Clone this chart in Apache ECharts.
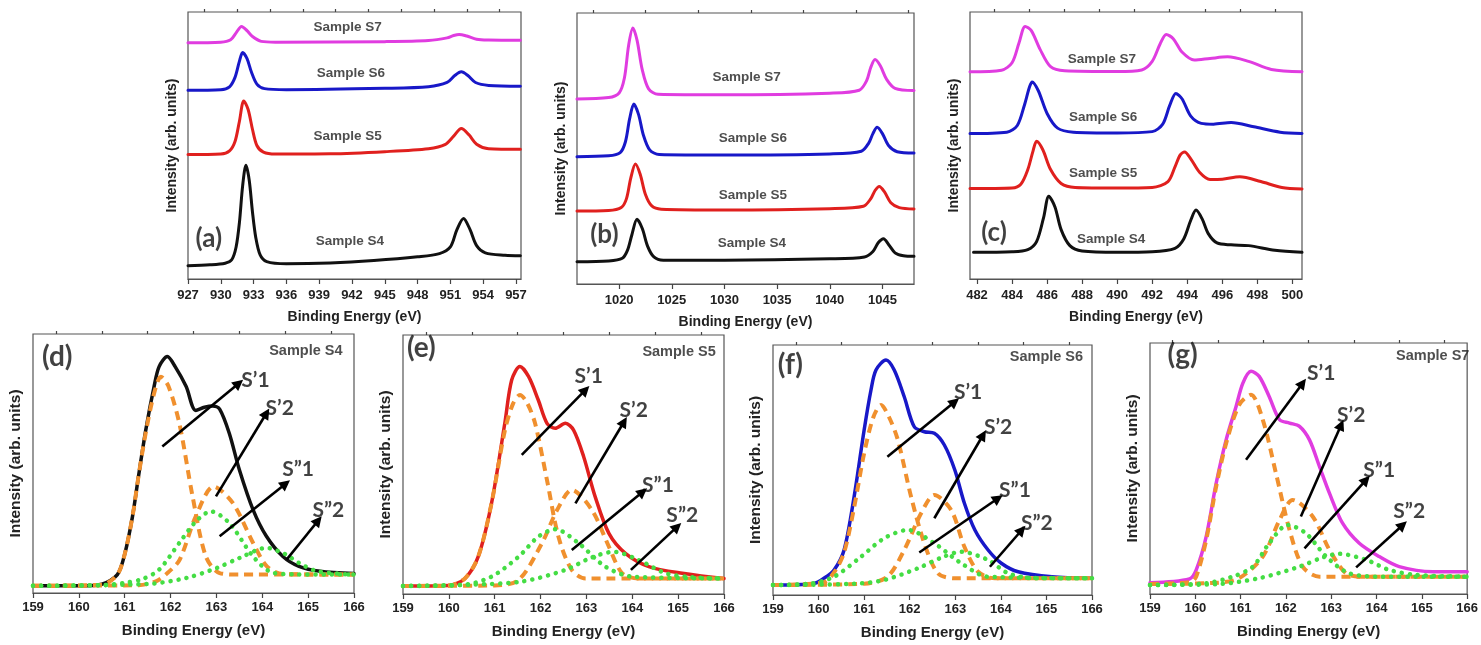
<!DOCTYPE html>
<html>
<head>
<meta charset="utf-8">
<script src="https://cdn.jsdelivr.net/npm/echarts@6/dist/echarts.min.js"></script>
<style>html,body{margin:0;background:#fff}#main{width:1481px;height:645px}</style>
</head>
<body>
<div id="main"></div>
<script>
// ---- tick labels ----
var cuTicks = [927, 930, 933, 936, 939, 942, 945, 948, 951, 954, 957];
var cuMinor = [928.5, 931.5, 934.5, 937.5, 940.5, 943.5, 946.5, 949.5, 952.5, 955.5];
var znTicks = [1020, 1025, 1030, 1035, 1040, 1045];
var znMinor = [1017.5, 1022.5, 1027.5, 1032.5, 1037.5, 1042.5, 1047.5];
var snTicks = [482, 484, 486, 488, 490, 492, 494, 496, 498, 500];
var snMinor = [483, 485, 487, 489, 491, 493, 495, 497, 499];
var sTicks = [159, 160, 161, 162, 163, 164, 165, 166];
var sMinor = [159.5, 160.5, 161.5, 162.5, 163.5, 164.5, 165.5];

// ---- (a) Cu 2p ----
var cuS4 = [[927,5.0],[929,5.3],[930.4,5.9],[931.0,7.2],[931.4,12],[931.7,21],[932.0,35],[932.3,42.6],[932.6,37],[932.9,25],[933.2,15.5],[933.6,9],[934.2,6.5],[936,5.7],[940,6.0],[944,6.9],[948,8.3],[950,9.5],[951,12],[951.6,18.5],[952.2,22.7],[952.8,18.5],[953.4,12.5],[954.2,9.8],[956,8.9],[957.4,8.7]];
var cuS5 = [[927,46.6],[930,46.8],[930.8,48.0],[931.3,51.5],[931.7,59],[932.1,66.7],[932.5,63.5],[932.9,56],[933.3,50],[933.9,47.5],[935,46.8],[940,46.9],[945,47.7],[949,48.8],[950.5,50.3],[951.3,53.5],[952.0,56.4],[952.7,54],[953.4,50.5],[954.5,48.8],[957.4,48.6]];
var cuS6 = [[927,70.7],[930,70.9],[930.8,72.0],[931.3,75.5],[931.7,81.5],[932.0,84.8],[932.4,82.5],[932.8,77.5],[933.3,73],[934,71.3],[936,70.9],[945,71.4],[949,72.0],[950.7,73.6],[951.4,76.2],[952.0,77.6],[952.6,76.2],[953.3,73.6],[954.5,72.5],[957.4,72.2]];
var cuS7 = [[927,88.5],[930,88.7],[930.9,89.6],[931.4,92.2],[931.9,94.6],[932.4,93.0],[932.9,90.8],[933.7,89.0],[935,88.7],[945,88.9],[949,89.3],[950.7,90.3],[951.3,91.2],[951.8,91.6],[952.5,91.0],[953.4,89.8],[954.5,89.5],[957.4,89.4]];

// ---- (b) Zn 2p ----
var znS4 = [[1016,8.2],[1019,8.5],[1020.3,9.5],[1020.8,12.5],[1021.2,18],[1021.7,23.9],[1022.2,20.5],[1022.7,14],[1023.3,10],[1024.2,8.8],[1030,8.8],[1040,9.3],[1043.3,10],[1044.1,12],[1044.6,15.2],[1045.1,16.7],[1045.6,14.5],[1046.2,11.5],[1047,10.4],[1048,10.2]];
var znS5 = [[1016,26.9],[1019,27.1],[1020.2,28.2],[1020.7,31.5],[1021.1,39],[1021.55,44.3],[1022.0,40.5],[1022.5,33],[1023.1,28.8],[1024,27.6],[1030,27.3],[1040,27.8],[1043.2,28.7],[1043.9,31.5],[1044.3,34.5],[1044.7,36.0],[1045.2,34],[1045.8,30],[1046.6,28.2],[1048,27.7]];
var znS6 = [[1016,47.0],[1019,47.3],[1020.1,48.5],[1020.6,52.5],[1021.0,61],[1021.4,66.4],[1021.85,62.5],[1022.3,55],[1022.9,49.5],[1023.8,47.8],[1030,47.6],[1040,48.0],[1043.0,49],[1043.7,52],[1044.1,55.5],[1044.5,57.8],[1045.0,55.5],[1045.6,51],[1046.4,48.8],[1048,48.3]];
var znS7 = [[1016,68.3],[1019,68.8],[1020.0,70.5],[1020.5,76],[1020.9,88],[1021.3,94.5],[1021.7,90],[1022.2,79],[1022.8,72],[1023.7,70],[1030,69.8],[1040,70.4],[1042.8,71.5],[1043.5,75],[1043.9,80],[1044.3,82.8],[1044.8,80.5],[1045.4,75.5],[1046.2,72.2],[1048,71.4]];

// ---- (c) Sn 3d ----
var snS4 = [[481.8,10.0],[484,10.2],[484.9,11],[485.4,14],[485.8,23],[486.1,31.0],[486.45,27],[486.8,18.5],[487.3,12.5],[488,10.5],[490,10.0],[492,10.2],[493.3,11.5],[493.8,15],[494.2,22],[494.5,25.8],[494.85,22.5],[495.2,17],[495.7,13.5],[496.5,12.8],[497.5,12.5],[499,10.8],[500.55,10.0]];
var snS5 = [[481.6,33.9],[484,34.1],[484.5,35.5],[484.9,41],[485.2,48],[485.4,51.6],[485.75,48.5],[486.2,41],[486.8,35.8],[487.6,34.3],[490,34.1],[492,34.3],[492.9,36.5],[493.3,42],[493.6,46.5],[493.85,47.6],[494.2,45],[494.7,40],[495.3,37.3],[496.0,37.4],[497.0,38.3],[498.2,36.5],[499.4,34.3],[500.55,33.7]];
var snS6 = [[481.6,54.5],[483.7,55],[484.3,57.5],[484.7,65],[485.0,72],[485.15,73.8],[485.5,70.5],[486.0,62],[486.6,56.5],[487.5,55],[490,54.7],[492,55.2],[492.6,58],[493.0,65],[493.35,69.5],[493.7,67.5],[494.2,61],[494.8,58.3],[495.5,58],[496.5,58.6],[497.8,57],[499.3,55],[500.55,54.5]];
var snS7 = [[481.6,77.6],[483.4,78.2],[484.0,81],[484.4,88.5],[484.75,94.6],[485.1,93],[485.6,86],[486.2,79.5],[487,78],[490,77.7],[491.4,78.3],[492.0,81.5],[492.45,88],[492.8,91.6],[493.2,90],[493.7,85],[494.4,82],[495.3,82.6],[496.3,83.2],[497.5,81.5],[498.8,78.5],[500.55,77.6]];

// ---- (d)-(g) S 2p fits: total, S'1, S'2, S"1, S"2 ----
var dTotal = [[159,2.8],[160,2.8],[160.5,3.4],[160.84,7.1],[161.0,15],[161.17,29.6],[161.3,45],[161.46,63.0],[161.64,79.7],[161.75,87.4],[161.93,91.3],[162.1,87.4],[162.34,79.7],[162.55,70.5],[162.74,71.7],[162.92,72.2],[163.07,71.0],[163.28,61.7],[163.5,47.6],[163.8,32.1],[164.09,21.9],[164.45,14.1],[164.8,10.3],[165.26,8.4],[166,7.5]];
var dS1 = [[159,2.8],[160.5,3.2],[160.84,7.1],[161.0,15],[161.17,29.6],[161.3,45],[161.46,62],[161.64,77],[161.79,83.5],[161.95,80],[162.19,65.6],[162.48,37.3],[162.77,14.1],[163.07,7.7],[163.5,7.1],[166,7.1]];
var dS2 = [[159,2.8],[161.3,3.0],[161.68,4.5],[161.95,8],[162.2,12.9],[162.55,29.6],[162.94,41.1],[163.36,34.7],[163.8,19.3],[164.1,10.3],[164.45,7.3],[166,7.1]];
var dS3 = [[159,2.8],[160.5,3.0],[161.0,3.9],[161.4,5.5],[161.75,9.0],[162.19,19.3],[162.55,27.6],[162.88,31.5],[163.28,27],[163.8,14.1],[164.2,8.0],[164.7,7.2],[166,7.1]];
var dS4 = [[159,2.8],[161.5,3.5],[162.34,5.8],[163.0,9.6],[163.5,13.5],[164.09,17.4],[164.5,15],[164.8,11.6],[165.2,8.4],[166,7.1]];

var eTotal = [[159,3.1],[160,3.3],[160.35,6.0],[160.64,14.4],[160.93,35],[161.22,65.9],[161.37,82.6],[161.55,87.8],[161.74,83.9],[161.95,74.9],[162.14,65.9],[162.32,64.0],[162.54,65.9],[162.72,63.3],[162.94,53],[163.19,37.6],[163.49,23.4],[163.85,15.7],[164.36,10.6],[165.09,8.0],[166,6.0]];
var eS1 = [[159,3.1],[160,3.3],[160.35,6.0],[160.64,14.4],[160.93,35],[161.22,63],[161.4,73.5],[161.55,76.8],[161.7,74],[161.88,65.9],[162.14,44],[162.39,22.1],[162.68,9.3],[162.98,6.0],[166,6.0]];
var eS2 = [[159,3.1],[161,3.3],[161.52,5.4],[162.03,19.6],[162.36,32.4],[162.68,40.2],[163.12,32.4],[163.49,18.3],[163.78,8.0],[164.14,6.0],[166,6.0]];
var eS3 = [[159,3.1],[160.3,3.5],[160.93,6.7],[161.52,14.4],[161.95,22.1],[162.32,25],[162.83,19.6],[163.41,10.6],[164.0,6.7],[166,6.0]];
var eS4 = [[159,3.1],[160.5,3.6],[161.59,4.8],[162.54,9.3],[163.1,14],[163.6,16.3],[164.14,13.1],[164.73,8.0],[165.3,6.5],[166,6.0]];

var fTotal = [[159,4.0],[159.9,4.6],[160.12,6.7],[160.34,10],[160.56,18],[160.78,39.3],[161.0,66],[161.15,82],[161.26,90],[161.48,94],[161.66,90],[161.88,79.3],[162.1,67.3],[162.32,65.3],[162.54,64.7],[162.76,60],[162.99,50],[163.2,36.7],[163.43,26],[163.72,18],[164.01,12.7],[164.38,9.3],[165.12,7.3],[166,6.7]];
var fS1 = [[159,4.0],[160.1,5],[160.34,9],[160.56,17],[160.78,35],[161.0,56.7],[161.2,71],[161.37,76],[161.55,71],[161.74,62],[162.03,39.3],[162.32,20.7],[162.62,8.7],[162.99,6.7],[166,6.7]];
var fS2 = [[159,4.0],[161.0,4.5],[161.51,7.3],[161.88,18],[162.25,32.7],[162.54,40],[162.91,34],[163.2,19.3],[163.5,9.3],[163.87,6.7],[166,6.7]];
var fS3 = [[159,4.0],[159.8,4.5],[160.34,7.3],[160.93,15.3],[161.44,22.7],[161.96,26],[162.54,20.7],[163.13,12.7],[163.72,7.3],[166,6.7]];
var fS4 = [[159,4.0],[160.78,4.5],[161.44,6],[162.18,10.7],[162.7,15],[163.13,17.3],[163.72,14],[164.16,8.7],[164.75,6.7],[166,6.7]];

var gTotal = [[159,4.5],[159.87,6.0],[160.02,9.6],[160.24,22.9],[160.46,44.1],[160.68,61.4],[160.9,74.7],[161.05,84],[161.23,88.7],[161.41,86.7],[161.63,78.7],[161.86,69.4],[162.08,68.1],[162.3,66.8],[162.52,61.4],[162.74,50.8],[162.96,40.2],[163.25,28.2],[163.62,20.2],[164.06,14.9],[164.5,10.9],[165.24,8.9],[166,8.9]];
var gS1 = [[159,4.0],[159.9,4.8],[160.02,6.9],[160.24,21.5],[160.46,42.8],[160.68,60],[160.97,75.4],[161.23,79.4],[161.49,69.4],[161.78,48.1],[162.08,25.5],[162.37,10.9],[162.74,6.9],[166,6.9]];
var gS2 = [[159,4.0],[160.5,4.5],[160.97,6.3],[161.49,14.9],[161.86,29.5],[162.15,37.5],[162.59,30.9],[162.96,17.6],[163.33,8.2],[163.7,6.9],[166,6.9]];
var gS3 = [[159,3.6],[160.2,4.2],[160.82,6.9],[161.27,10.9],[161.63,20.2],[162.04,27.5],[162.44,24.2],[162.89,14.9],[163.4,8.2],[164.13,6.9],[166,6.9]];
var gS4 = [[159,3.6],[160.46,3.9],[161.41,6.3],[162.3,10.9],[162.8,14.5],[163.18,16],[163.77,13.6],[164.28,9.6],[164.87,7.6],[166,6.9]];

// ---- text notes [x, y, text] and arrows [[x1,y1],[x2,y2]] ----
var aNotes = [[941.6,94.4,'Sample S7'],[941.9,77.2,'Sample S6'],[941.6,53.6,'Sample S5'],[941.8,14.2,'Sample S4'],[928.9,15.0,'(a)']];
var bNotes = [[1032.1,76.1,'Sample S7'],[1032.7,53.9,'Sample S6'],[1032.7,32.8,'Sample S5'],[1032.6,15.1,'Sample S4'],[1018.6,18.1,'(b)']];
var cNotes = [[489.13,82.4,'Sample S7'],[489.2,60.7,'Sample S6'],[489.2,39.7,'Sample S5'],[489.65,15.0,'Sample S4'],[482.97,17.2,'(c)']];
var dNotes = [[164.95,93.6,'Sample S4'],[159.53,91.3,'(d)'],[163.85,82.3,'S’1'],[164.38,71.3,'S’2'],[164.78,47.6,'S”1'],[165.44,32.1,'S”2']];
var eNotes = [[165.02,93.6,'Sample S5'],[159.4,94.9,'(e)'],[163.05,83.9,'S’1'],[164.03,71,'S’2'],[164.56,42.1,'S”1'],[165.09,30.5,'S”2']];
var fNotes = [[165.0,95.3,'Sample S6'],[159.38,92,'(f)'],[163.28,81.3,'S’1'],[163.94,67.3,'S’2'],[164.31,42,'S”1'],[164.79,28.7,'S”2']];
var gNotes = [[165.24,95,'Sample S7'],[159.72,95.3,'(g)'],[162.78,88,'S’1'],[163.44,71.4,'S’2'],[164.06,49.5,'S”1'],[164.72,32.8,'S”2']];
var dArrows = [[[161.82,56.6],[163.49,81]],[[162.99,37.3],[164.09,69.4]],[[163.07,21.9],[164.51,42.2]],[[164.53,12.9],[165.22,28]]];
var eArrows = [[[161.59,53.7],[162.98,78.8]],[[162.76,35],[163.82,66.5]],[[162.68,17],[164.23,39.5]],[[163.97,9.3],[164.98,26]]];
var fArrows = [[[161.51,55.3],[162.99,77.3]],[[162.54,30.7],[163.61,64]],[[162.21,17],[163.94,38.7]],[[163.76,11.3],[164.46,26]]];
var gArrows = [[[161.12,53.5],[162.37,84]],[[162.33,30.9],[163.22,67.4]],[[162.41,18.2],[163.77,45.5]],[[163.55,10.6],[164.58,27.5]]];

var C = {S4: '#111111', S5: '#e0201e', S6: '#1818c8', S7: '#e03ce0', fitA: '#f0902e', fitB: '#44dd44'};
var ARIAL = '"Liberation Sans", Arial, sans-serif';
var CALIBRI = 'Lato, "Open Sans", sans-serif';

var panels = [
  {box: {left: 188, top: 12, width: 333, height: 267}, range: [927, 957.46], ticks: cuTicks, minor: cuMinor, small: true,
   curves: [[cuS4, C.S4], [cuS5, C.S5], [cuS6, C.S6], [cuS7, C.S7]], notes: aNotes},
  {box: {left: 577, top: 13, width: 337, height: 271}, range: [1016, 1048], ticks: znTicks, minor: znMinor, small: true,
   curves: [[znS4, C.S4], [znS5, C.S5], [znS6, C.S6], [znS7, C.S7]], notes: bNotes},
  {box: {left: 970, top: 12, width: 332, height: 267}, range: [481.6, 500.55], ticks: snTicks, minor: snMinor, small: true,
   curves: [[snS4, C.S4], [snS5, C.S5], [snS6, C.S6], [snS7, C.S7]], notes: cNotes},
  {box: {left: 33, top: 334, width: 321, height: 259}, range: [159, 166], ticks: sTicks, minor: sMinor,
   total: dTotal, color: C.S4, fits: [dS1, dS2, dS3, dS4], notes: dNotes, arrows: dArrows},
  {box: {left: 403, top: 335, width: 321, height: 259}, range: [159, 166], ticks: sTicks, minor: sMinor,
   total: eTotal, color: C.S5, fits: [eS1, eS2, eS3, eS4], notes: eNotes, arrows: eArrows},
  {box: {left: 773, top: 345, width: 319, height: 250}, range: [159, 166], ticks: sTicks, minor: sMinor,
   total: fTotal, color: C.S6, fits: [fS1, fS2, fS3, fS4], notes: fNotes, arrows: fArrows},
  {box: {left: 1150, top: 343, width: 318, height: 251}, range: [159, 166], ticks: sTicks, minor: sMinor,
   total: gTotal, color: C.S7, fits: [gS1, gS2, gS3, gS4], notes: gNotes, arrows: gArrows}
];

var grid = [], xAxis = [], yAxis = [], series = [];

function noteLabel(text, small) {
  if (text.charAt(0) === '(') return {fontFamily: CALIBRI, fontWeight: 'bold', fontSize: small ? 26 : 28, color: '#111'};
  if (text.indexOf('Sample') < 0) return {fontFamily: CALIBRI, fontWeight: 'bold', fontSize: 21, color: '#111'};
  return {fontFamily: ARIAL, fontWeight: 'bold', fontSize: small ? 13.5 : 14.5, color: '#222'};
}

panels.forEach(function (p, i) {
  grid.push(Object.assign({show: true, borderColor: '#555', borderWidth: 1.2, containLabel: false}, p.box));
  xAxis.push({
    gridIndex: i, type: 'value', min: p.range[0], max: p.range[1],
    name: 'Binding Energy (eV)', nameLocation: 'middle', nameGap: p.small ? 31 : 30,
    nameTextStyle: {fontFamily: ARIAL, fontWeight: 'bold', fontSize: p.small ? 14 : 15, color: '#222'},
    axisLine: {lineStyle: {color: '#555', width: 1.2}},
    axisTick: {customValues: p.ticks, length: 5, lineStyle: {color: '#444', width: 1.2}},
    axisLabel: {customValues: p.ticks, margin: p.small ? 10 : 8, fontFamily: ARIAL, fontWeight: 'bold', fontSize: 13, color: '#222',
      formatter: function (v) { return String(v); }},
    splitLine: {show: false}
  });
  xAxis.push({
    gridIndex: i, type: 'value', min: p.range[0], max: p.range[1],
    axisLine: {show: false},
    axisTick: {customValues: p.minor, length: 3, lineStyle: {color: '#444', width: 1.2}},
    axisLabel: {show: false}, splitLine: {show: false}
  });
  yAxis.push({
    gridIndex: i, type: 'value', min: 0, max: 100,
    axisLine: {show: false}, axisTick: {show: false}, axisLabel: {show: false}, splitLine: {show: false},
    name: 'Intensity (arb. units)', nameLocation: 'middle', nameGap: 9,
    nameTextStyle: {fontFamily: ARIAL, fontWeight: 'bold', fontSize: p.small ? 14 : 15.5, color: '#222'}
  });
  var xi = i * 2;
  function line(data, color, width, type, cap) {
    series.push({
      type: 'line', xAxisIndex: xi, yAxisIndex: i, data: data, showSymbol: false, silent: true,
      smooth: 0.3,
      lineStyle: {color: color, width: width, type: type || 'solid', cap: cap || 'round', join: 'round'}
    });
  }
  if (p.curves) {
    p.curves.forEach(function (c) { line(c[0], c[1], 3); });
  } else {
    line(p.total, p.color, 3.5);
    line(p.fits[0], C.fitA, 4, [9, 6], 'butt');
    line(p.fits[1], C.fitA, 4, [9, 6], 'butt');
    line(p.fits[2], C.fitB, 4.5, [0.1, 8], 'round');
    line(p.fits[3], C.fitB, 4.5, [0.1, 8], 'round');
  }
  var notes = {
    type: 'scatter', xAxisIndex: xi, yAxisIndex: i, symbolSize: 1, silent: true, clip: false,
    itemStyle: {color: 'rgba(0,0,0,0)'},
    data: p.notes.map(function (n) {
      return {value: [n[0], n[1]], label: Object.assign({show: true, position: 'inside', formatter: n[2]}, noteLabel(n[2], p.small))};
    })
  };
  if (p.arrows) {
    notes.markLine = {
      silent: true, animation: false, symbol: ['none', 'triangle'], symbolSize: 11,
      label: {show: false},
      itemStyle: {color: '#000', opacity: 1},
      lineStyle: {color: '#000', width: 2.6, type: 'solid', opacity: 1},
      data: p.arrows.map(function (a) { return [{coord: a[0]}, {coord: a[1]}]; })
    };
  }
  series.push(notes);
});

var myChart = echarts.init(document.getElementById('main'));
myChart.setOption({animation: false, backgroundColor: '#fff', grid: grid, xAxis: xAxis, yAxis: yAxis, series: series});
</script>
</body>
</html>
